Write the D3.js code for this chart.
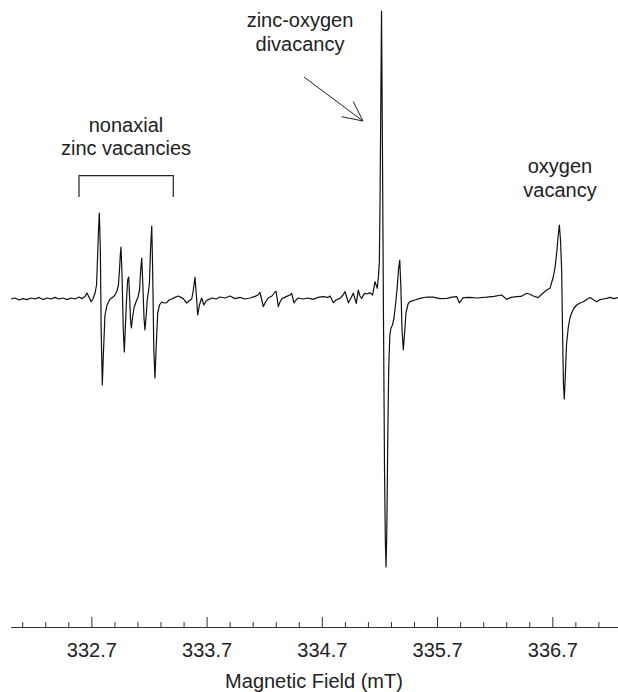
<!DOCTYPE html>
<html>
<head>
<meta charset="utf-8">
<title>EPR spectrum</title>
<style>
  * { margin: 0; padding: 0; }
  body { background: #fff; }
  svg { display: block; }
  text { font-family: "Liberation Sans", Arial, sans-serif; fill: #222; }
</style>
</head>
<body>
<div id="chart"></div>
<script src="https://cdn.jsdelivr.net/npm/d3@7/dist/d3.min.js"></script>
<script>
// magnetic field (mT) of each point of the trace
var field = [
  332.003, 332.037, 332.072, 332.107, 332.141, 332.176, 332.211, 332.246, 332.280, 332.315,
  332.350, 332.384, 332.419, 332.454, 332.489, 332.523, 332.558, 332.593, 332.619, 332.645,
  332.662, 332.679, 332.697, 332.714, 332.732, 332.745, 332.753, 332.762, 332.769, 332.778,
  332.785, 332.795, 332.804, 332.818, 332.836, 332.862, 332.888, 332.905, 332.922, 332.935,
  332.944, 332.951, 332.957, 332.966, 332.977, 332.986, 332.994, 333.005, 333.015, 333.024,
  333.033, 333.040, 333.047, 333.057, 333.070, 333.087, 333.105, 333.118, 333.128, 333.137,
  333.145, 333.157, 333.165, 333.176, 333.185, 333.196, 333.204, 333.213, 333.224, 333.232,
  333.242, 333.252, 333.263, 333.276, 333.291, 333.310, 333.330, 333.354, 333.374, 333.397,
  333.426, 333.454, 333.478, 333.498, 333.512, 333.527, 333.547, 333.571, 333.585, 333.599,
  333.611, 333.623, 333.638, 333.657, 333.677, 333.695, 333.715, 333.747, 333.782, 333.816,
  333.860, 333.903, 333.946, 333.990, 334.033, 334.077, 334.120, 334.146, 334.163, 334.181,
  334.192, 334.211, 334.235, 334.267, 334.293, 334.302, 334.313, 334.322, 334.337, 334.354,
  334.395, 334.424, 334.438, 334.450, 334.458, 334.476, 334.496, 334.536, 334.580, 334.623,
  334.667, 334.710, 334.753, 334.771, 334.799, 334.823, 334.858, 334.884, 334.901, 334.916,
  334.930, 334.953, 334.973, 334.988, 334.999, 335.016, 335.031, 335.046, 335.061, 335.074,
  335.096, 335.118, 335.141, 335.161, 335.181, 335.192, 335.199, 335.205, 335.212, 335.218,
  335.226, 335.235, 335.244, 335.251, 335.257, 335.264, 335.272, 335.280, 335.290, 335.300,
  335.313, 335.326, 335.339, 335.352, 335.365, 335.376, 335.385, 335.396, 335.407, 335.417,
  335.430, 335.448, 335.465, 335.508, 335.552, 335.613, 335.665, 335.725, 335.786, 335.829,
  335.870, 335.893, 335.927, 335.986, 336.046, 336.131, 336.194, 336.261, 336.304, 336.341,
  336.391, 336.428, 336.478, 336.506, 336.535, 336.578, 336.610, 336.651, 336.680, 336.708,
  336.723, 336.738, 336.749, 336.761, 336.771, 336.781, 336.790, 336.797, 336.804, 336.813,
  336.823, 336.839, 336.853, 336.868, 336.888, 336.912, 336.940, 336.969, 336.997, 337.027,
  337.053, 337.085, 337.114, 337.140, 337.172, 337.200, 337.235, 337.270
];

// first-derivative signal, arbitrary units
var signal = [
  -0.5, 0, -1, -0.3, -0.8, 0, -0.5, 0.3, -0.8, 0,
  -0.5, 0.3, -0.5, 0, -0.8, 0, -0.5, 0.5, -0.3, 0.8,
  2.5, 0.5, -1.8, -0.5, 2.5, 6.5, 19, 34, 42.5, 24,
  -16, -43.5, -28.5, -8.5, -3.5, -0.5, 0.5, 1.5, 3.5, 6.5,
  14, 21.5, 25.5, 11.5, -16, -27, -16, -1, 9, 10.5,
  -1, -11, -15, -10, -5, -2, 0.5, 4, 14, 20,
  9, -10, -16, -8.5, -1, 3.5, 7.5, 24, 36, 14,
  -26, -40, -23.5, -7.5, -3.5, -2, -2.5, -2.3, -1, -0.5,
  0.3, 1, 0.3, -0.3, -1.5, -2.5, -1.5, -0.5, 4, 10.5,
  1.5, -8.5, -3.5, 0, -3.5, -1.5, -0.8, 0, -0.5, 0.5,
  0, 1, -0.3, 0.3, -0.5, 0, 0.8, 1.5, 2.8, -1.5,
  -4.3, -2, 0, 1, 3, 3.3, -0.5, -4.3, -2, -0.3,
  0.8, 1.5, 2.3, -0.5, -2.5, -1, 0, -0.5, 0, -0.7,
  0.3, 0.7, 0.3, 1, -2.3, -1, -0.2, 1.5, 3.2, 0.5,
  -2.4, 0, 2.4, -0.5, -2.7, 4, 1, -0.2, 1.5, 2.4,
  2, 2.7, 1.5, 8.2, 4.9, 11.5, 18, 49, 99, 143.5,
  74, -11, -86, -121, -134.5, -116, -71, -36, -18.5, -15,
  -13.5, -10, -3.5, 4, 14, 19, 6.5, -16, -26, -18.5,
  -7.5, -3, -1.8, -1, -0.2, 0.5, 0.4, -0.3, -0.2, 0.4,
  0.7, -2.4, 0.2, 0.3, 0, 0.4, 0.8, 1.5, -0.7, 0.3,
  0.7, 0.8, 2.4, 1.9, 1, 0.2, 2, 4, 4.9, 10.5,
  15, 22.5, 30, 36.5, 29, 14, -21, -43.5, -50.5, -38.5,
  -23.5, -14.5, -10, -7.5, -5, -3.5, -2.5, -1.9, -0.8, 0.2,
  -0.8, -1.9, -0.8, -0.5, -0.2, 0.3, -0.3, 0.2
];

var majorTicks = [332.7, 333.7, 334.7, 335.7, 336.7];
var minorTicks = [332.1, 332.3, 332.5, 332.9, 333.1, 333.3, 333.5, 333.9, 334.1, 334.3, 334.5,
                  334.9, 335.1, 335.3, 335.5, 335.9, 336.1, 336.3, 336.5, 336.9, 337.1];

var width = 618, height = 692;

var svg = d3.select("#chart").append("svg")
    .attr("width", width)
    .attr("height", height);

var x = d3.scaleLinear().domain([332.0, 337.27]).range([10.7, 618]);
var y = d3.scaleLinear().domain([-135, 145]).range([568, 8]);

var axisY = 627;

// spectrum trace
var points = field.map(function (f, i) { return [f, signal[i]]; });
var line = d3.line()
    .x(function (d) { return x(d[0]); })
    .y(function (d) { return y(d[1]); });

svg.append("path")
    .datum(points)
    .attr("d", line)
    .attr("fill", "none")
    .attr("stroke", "#111")
    .attr("stroke-width", 1.2)
    .attr("stroke-linejoin", "round");

// axis: ticks point upward
var minorAxis = d3.axisBottom(x)
    .tickValues(minorTicks)
    .tickSize(-5)
    .tickSizeOuter(0)
    .tickFormat("");
var majorAxis = d3.axisBottom(x)
    .tickValues(majorTicks)
    .tickSize(-10)
    .tickSizeOuter(0)
    .tickPadding(15.5)
    .tickFormat(d3.format(".1f"));

var gMinor = svg.append("g").attr("transform", "translate(0," + axisY + ")").call(minorAxis);
var gMajor = svg.append("g").attr("transform", "translate(0," + axisY + ")").call(majorAxis);
gMinor.select(".domain").remove();

svg.selectAll(".domain, .tick line").attr("stroke", "#333").attr("stroke-width", 1);
gMajor.selectAll(".tick text")
    .attr("font-family", "Liberation Sans, Arial, sans-serif")
    .attr("font-size", 20)
    .attr("fill", "#222");

svg.append("text")
    .attr("x", 314)
    .attr("y", 688)
    .attr("text-anchor", "middle")
    .attr("font-size", 20)
    .text("Magnetic Field (mT)");

// annotations
function label(lines, cx, y0, dy) {
  lines.forEach(function (t, i) {
    svg.append("text")
      .attr("x", cx)
      .attr("y", y0 + i * dy)
      .attr("text-anchor", "middle")
      .attr("font-size", 20)
      .text(t);
  });
}
label(["nonaxial", "zinc vacancies"], 126, 131.7, 23.5);
label(["zinc-oxygen", "divacancy"], 300, 27, 24);
label(["oxygen", "vacancy"], 560, 173, 24);

// bracket over the zinc vacancy lines
svg.append("path")
    .attr("d", "M79,197V175.7H173.3V197")
    .attr("fill", "none")
    .attr("stroke", "#222")
    .attr("stroke-width", 1.2);

// arrow to the divacancy line
svg.append("path")
    .attr("d", "M304,77L363,121M341.7,116.7L363,121L353.3,101.7")
    .attr("fill", "none")
    .attr("stroke", "#222")
    .attr("stroke-width", 1);
</script>
</body>
</html>
